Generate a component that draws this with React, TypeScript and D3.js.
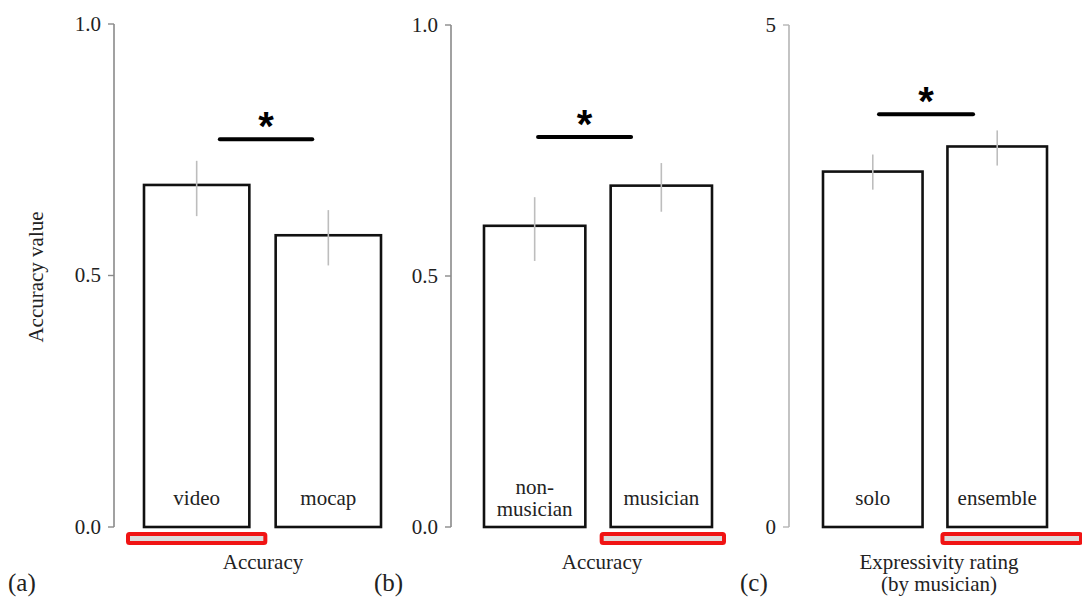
import React from "react";
import * as d3 from "d3";

// panel (a): accuracy by presentation
const catsA = ["video", "mocap"];
const valsA = [0.68, 0.58];
const errA = [[0.618, 0.728], [0.52, 0.63]];

// panel (b): accuracy by group
const catsB = [["non-", "musician"], ["musician"]];
const valsB = [0.6, 0.68];
const errB = [[0.53, 0.657], [0.628, 0.725]];

// panel (c): expressivity rating
const catsC = ["solo", "ensemble"];
const valsC = [3.54, 3.79];
const errC = [[3.36, 3.71], [3.6, 3.95]];

const ticksAcc = [0, 0.5, 1];
const tickLabelsAcc = ["0.0", "0.5", "1.0"];
const ticksExp = [0, 5];
const tickLabelsExp = ["0", "5"];

const serif = { fontFamily: "Liberation Serif, Times New Roman, serif" };

type PanelProps = {
  axisX: number;
  barRange: [number, number];
  domainMax: number;
  yTop: number;
  labels: string[][];
  values: number[];
  errors: number[][];
  ticks: number[];
  tickLabels: string[];
  sig: { y: number; from: number; to: number };
  box: { idx: number; left: number; right: number };
  axisColor: string;
  title: string[];
  titleX: number;
  tag: string;
  tagX: number;
};

const Panel = (p: PanelProps) => {
  const y = d3.scaleLinear().domain([0, p.domainMax]).range([527, p.yTop]);
  const x = d3
    .scaleBand<number>()
    .domain(p.values.map((_, i) => i))
    .range(p.barRange)
    .paddingInner(0.2);
  const bw = x.bandwidth();
  const x0 = x(0)!;
  const x1 = x(1)! + bw;
  const sigX1 = x0 + (x1 - x0) * p.sig.from;
  const sigX2 = x0 + (x1 - x0) * p.sig.to;
  const bx = x(p.box.idx)!;

  return (
    <g>
      {/* axis */}
      <line x1={p.axisX} x2={p.axisX} y1={y(p.domainMax)} y2={y(0)} stroke={p.axisColor} strokeWidth={1.6} />
      {p.ticks.map((t, i) => (
        <g key={t}>
          <line x1={p.axisX - 6} x2={p.axisX} y1={y(t)} y2={y(t)} stroke={p.axisColor} strokeWidth={1.4} />
          <text x={p.axisX - 13} y={y(t)} dy="0.33em" textAnchor="end" fontSize={21} style={serif} fill="#222">
            {p.tickLabels[i]}
          </text>
        </g>
      ))}

      {/* highlight box */}
      <rect
        x={bx - p.box.left}
        y={534}
        width={bw + p.box.left + p.box.right}
        height={9}
        rx={1.5}
        fill="#dcdcdc"
        stroke="#f01414"
        strokeWidth={4}
      />

      {/* bars */}
      {p.values.map((v, i) => {
        const bxi = x(i)!;
        const cx = bxi + bw / 2;
        const lab = p.labels[i];
        return (
          <g key={i}>
            <rect x={bxi} y={y(v)} width={bw} height={y(0) - y(v)} fill="white" stroke="#111" strokeWidth={2.6} />
            <line x1={cx} x2={cx} y1={y(p.errors[i][1])} y2={y(p.errors[i][0])} stroke="#bdbdbd" strokeWidth={1.6} />
            {lab.map((s, j) => (
              <text
                key={j}
                x={cx}
                y={lab.length === 1 ? 505 : 494 + j * 22}
                textAnchor="middle"
                fontSize={21}
                style={serif}
                fill="#222"
              >
                {s}
              </text>
            ))}
          </g>
        );
      })}

      {/* significance */}
      <line x1={sigX1} x2={sigX2} y1={y(p.sig.y)} y2={y(p.sig.y)} stroke="#000" strokeWidth={4} strokeLinecap="round" />
      <text
        x={(sigX1 + sigX2) / 2}
        y={y(p.sig.y) + 1}
        textAnchor="middle"
        fontSize={40}
        fontWeight="bold"
        style={{ fontFamily: "Liberation Sans, Arial, sans-serif" }}
        fill="#000"
      >
        *
      </text>

      {/* axis title */}
      {p.title.map((s, j) => (
        <text key={j} x={p.titleX} y={569 + j * 22} textAnchor="middle" fontSize={21} style={serif} fill="#222">
          {s}
        </text>
      ))}
      <text x={p.tagX} y={591} fontSize={25} style={serif} fill="#222">
        {p.tag}
      </text>
    </g>
  );
};

const App = () => {
  return (
    <div style={{ position: "absolute", left: 0, top: 0 }}>
      <svg width={1082} height={602} style={{ display: "block", background: "white" }}>
        <text
          transform="translate(43,277) rotate(-90)"
          textAnchor="middle"
          fontSize={21}
          style={serif}
          fill="#222"
        >
          Accuracy value
        </text>
        <Panel
          axisX={114}
          barRange={[144, 381]}
          domainMax={1}
          yTop={24}
          labels={catsA.map((c) => [c])}
          values={valsA}
          errors={errA}
          ticks={ticksAcc}
          tickLabels={tickLabelsAcc}
          sig={{ y: 0.771, from: 0.32, to: 0.71 }}
          box={{ idx: 0, left: 16, right: 16 }}
          axisColor="#8a8a8a"
          title={["Accuracy"]}
          titleX={263}
          tag="(a)"
          tagX={8}
        />
        <Panel
          axisX={451}
          barRange={[484, 712]}
          domainMax={1}
          yTop={25}
          labels={catsB}
          values={valsB}
          errors={errB}
          ticks={ticksAcc}
          tickLabels={tickLabelsAcc}
          sig={{ y: 0.777, from: 0.237, to: 0.645 }}
          box={{ idx: 1, left: 9, right: 12 }}
          axisColor="#8a8a8a"
          title={["Accuracy"]}
          titleX={602}
          tag="(b)"
          tagX={374}
        />
        <Panel
          axisX={789}
          barRange={[823, 1047]}
          domainMax={5}
          yTop={25}
          labels={catsC.map((c) => [c])}
          values={valsC}
          errors={errC}
          ticks={ticksExp}
          tickLabels={tickLabelsExp}
          sig={{ y: 4.11, from: 0.25, to: 0.67 }}
          box={{ idx: 1, left: 5, right: 34 }}
          axisColor="#b5b5b5"
          title={["Expressivity rating", "(by musician)"]}
          titleX={939}
          tag="(c)"
          tagX={740}
        />
      </svg>
    </div>
  );
};

export default App;
